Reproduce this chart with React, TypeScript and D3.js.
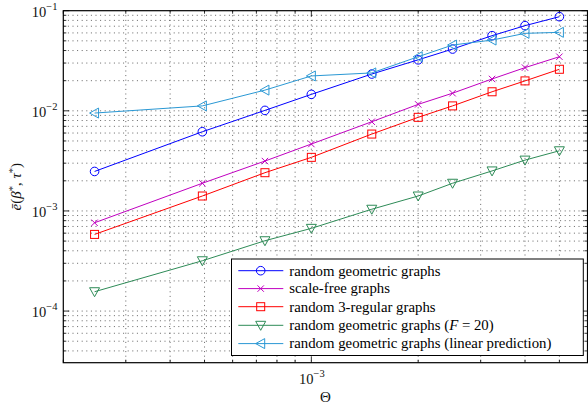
import React from 'react';
import * as d3 from 'd3';

const thetaValues = [2.45e-4, 4.93e-4, 7.4e-4, 1e-3, 1.48e-3, 2e-3, 2.5e-3, 3.23e-3, 4e-3, 5e-3];
const rggValues = [2.48e-3, 6.18e-3, 1.01e-2, 1.46e-2, 2.33e-2, 3.23e-2, 4.14e-2, 5.63e-2, 7.09e-2, 8.71e-2];
const scaleFreeValues = [7.62e-4, 1.89e-3, 3.15e-3, 4.66e-3, 7.78e-3, 1.16e-2, 1.5e-2, 2.08e-2, 2.7e-2, 3.47e-2];
const regular3Values = [5.83e-4, 1.41e-3, 2.41e-3, 3.43e-3, 5.86e-3, 8.61e-3, 1.12e-2, 1.55e-2, 1.99e-2, 2.6e-2];
const rggF20Values = [1.56e-4, 3.18e-4, 5.04e-4, 6.7e-4, 1.04e-3, 1.41e-3, 1.89e-3, 2.51e-3, 3.22e-3, 3.99e-3];
const linearPredValues = [9.5e-3, 1.12e-2, 1.61e-2, 2.23e-2, 2.39e-2, 3.47e-2, 4.54e-2, 5.09e-2, 5.94e-2, 6.08e-2];

const seriesNames = [
  'random geometric graphs',
  'scale-free graphs',
  'random 3-regular graphs',
  'random geometric graphs (F = 20)',
  'random geometric graphs (linear prediction)',
];
const seriesColors = ['#0000ff', '#c000c0', '#ff0000', '#2e8b57', '#2a98d4'];
const seriesMarkers = ['circle', 'cross', 'square', 'tridown', 'trileft'];
const seriesValues = [rggValues, scaleFreeValues, regular3Values, rggF20Values, linearPredValues];

const xMajorTicks = [1e-3];
const yMajorTicks = [1e-1, 1e-2, 1e-3, 1e-4];
const yTickExps = ['−1', '−2', '−3', '−4'];

const W = 588;
const H = 406;
const L = 63.3;
const R = 587.5;
const T = 10.7;
const B = 362.7;

const FONT = "'Liberation Serif', 'Times New Roman', serif";
const fontStyle = { fontFamily: FONT };

function Marker({ type, x, y, color }: { type: string; x: number; y: number; color: string }) {
  const common = { fill: 'none', stroke: color, strokeWidth: 1 };
  if (type === 'circle') return <circle cx={x} cy={y} r={4.3} {...common} />;
  if (type === 'square') return <rect x={x - 4} y={y - 4} width={8} height={8} {...common} />;
  if (type === 'cross')
    return (
      <path d={`M${x - 3.2},${y - 3.2}L${x + 3.2},${y + 3.2}M${x - 3.2},${y + 3.2}L${x + 3.2},${y - 3.2}`} {...common} />
    );
  if (type === 'tridown')
    return <path d={`M${x - 5},${y - 4}L${x + 5},${y - 4}L${x},${y + 5}Z`} {...common} />;
  return <path d={`M${x - 5},${y}L${x + 4},${y - 5}L${x + 4},${y + 5}Z`} {...common} />;
}

export default function App() {
  const x = d3.scaleLog().domain([2e-4, 6e-3]).range([L, R]);
  const y = d3.scaleLog().domain([3.05e-5, 1e-1]).range([B, T]);

  const xMinor: number[] = [];
  for (let k = 2; k <= 9; k++) xMinor.push(k * 1e-4);
  for (let k = 2; k <= 6; k++) xMinor.push(k * 1e-3);
  const yMinor: number[] = [];
  for (const d of [1e-5, 1e-4, 1e-3, 1e-2]) for (let k = 2; k <= 9; k++) if (k * d >= 3.05e-5) yMinor.push(k * d);

  const xGrid = [...xMinor, ...xMajorTicks].filter((v) => x(v) > L + 1 && x(v) < R - 1);
  const yGrid = [...yMinor, ...yMajorTicks].filter((v) => y(v) > T + 1 && y(v) < B - 1);

  const line = d3
    .line<number>()
    .x((_, i) => x(thetaValues[i]))
    .y((d) => y(d));

  const legX = 231.5;
  const legY = 259;
  const legW = 351.8;
  const legH = 96.5;
  const rowY = [270.7, 288.6, 306.7, 325.3, 343.6];

  return (
    <svg width={W} height={H} style={{ position: 'absolute', left: 0, top: 0, display: 'block', background: '#fff' }}>
      <rect x={0} y={0} width={W} height={H} fill="#fff" />
      {/* grid */}
      <g stroke="#555" strokeWidth={0.9} strokeDasharray="1,3.6">
        {xGrid.map((v, i) => (
          <line key={'gx' + i} x1={x(v)} x2={x(v)} y1={T} y2={B} />
        ))}
        {yGrid.map((v, i) => (
          <line key={'gy' + i} x1={L} x2={R} y1={y(v)} y2={y(v)} />
        ))}
      </g>
      {/* ticks */}
      <g stroke="#000" strokeWidth={0.8}>
        {xMinor.map((v, i) => (
          <g key={'tx' + i}>
            <line x1={x(v)} x2={x(v)} y1={B} y2={B - 3} />
            <line x1={x(v)} x2={x(v)} y1={T} y2={T + 3} />
          </g>
        ))}
        {xMajorTicks.map((v, i) => (
          <g key={'txm' + i}>
            <line x1={x(v)} x2={x(v)} y1={B} y2={B - 6} />
            <line x1={x(v)} x2={x(v)} y1={T} y2={T + 6} />
          </g>
        ))}
        {yMinor.map((v, i) => (
          <g key={'ty' + i}>
            <line x1={L} x2={L + 3} y1={y(v)} y2={y(v)} />
            <line x1={R} x2={R - 3} y1={y(v)} y2={y(v)} />
          </g>
        ))}
        {yMajorTicks.map((v, i) => (
          <g key={'tym' + i}>
            <line x1={L} x2={L + 6} y1={y(v)} y2={y(v)} />
            <line x1={R} x2={R - 6} y1={y(v)} y2={y(v)} />
          </g>
        ))}
      </g>
      {/* series */}
      {seriesValues.map((vals, s) => (
        <g key={'s' + s}>
          <path d={line(vals) || ''} fill="none" stroke={seriesColors[s]} strokeWidth={1} />
          {vals.map((v, i) => (
            <Marker key={i} type={seriesMarkers[s]} x={x(thetaValues[i])} y={y(v)} color={seriesColors[s]} />
          ))}
        </g>
      ))}
      {/* legend */}
      <rect x={legX} y={legY} width={legW} height={legH} fill="#fff" stroke="#000" strokeWidth={1} />
      {seriesNames.map((name, s) => (
        <g key={'l' + s}>
          <line x1={238.3} x2={283.3} y1={rowY[s]} y2={rowY[s]} stroke={seriesColors[s]} strokeWidth={1} />
          <Marker type={seriesMarkers[s]} x={260.7} y={rowY[s]} color={seriesColors[s]} />
          <text x={289.3} y={rowY[s] + 4.8} style={fontStyle} fontSize={14.8} fill="#000">
            {s === 3 ? (
              <>
                {'random geometric graphs ('}
                <tspan fontStyle="italic">F</tspan>
                {' = 20)'}
              </>
            ) : (
              name
            )}
          </text>
        </g>
      ))}
      {/* axes box */}
      <rect x={L} y={T} width={R - L} height={B - T} fill="none" stroke="#000" strokeWidth={1.2} />
      {/* y tick labels */}
      {yMajorTicks.map((v, i) => (
        <text key={'yl' + i} x={57.5} y={y(v) + 6.3} textAnchor="end" style={fontStyle} fontSize={14.5} fill="#111">
          10
          <tspan fontSize={10.5} dy={-7}>
            {yTickExps[i]}
          </tspan>
        </text>
      ))}
      {/* x tick label */}
      {xMajorTicks.map((v, i) => (
        <text key={'xl' + i} x={x(v) + 0.5} y={383.5} textAnchor="middle" style={fontStyle} fontSize={14.5} fill="#111">
          10
          <tspan fontSize={10.5} dy={-7}>
            −3
          </tspan>
        </text>
      ))}
      {/* axis labels */}
      <text x={(L + R) / 2} y={401.5} textAnchor="middle" style={fontStyle} fontSize={15} fill="#111">
        Θ
      </text>
      <text
        transform={`translate(21,${(T + B) / 2}) rotate(-90)`}
        textAnchor="middle"
        style={fontStyle}
        fontSize={15}
        fill="#111"
      >
        <tspan fontStyle="italic">ē</tspan>(<tspan fontStyle="italic">β</tspan>
        <tspan fontSize={10.5} dy={-5}>*</tspan>
        <tspan dy={5}>, </tspan>
        <tspan fontStyle="italic">τ</tspan>
        <tspan fontSize={10.5} dy={-5}>*</tspan>
        <tspan dy={5}>)</tspan>
      </text>
    </svg>
  );
}
